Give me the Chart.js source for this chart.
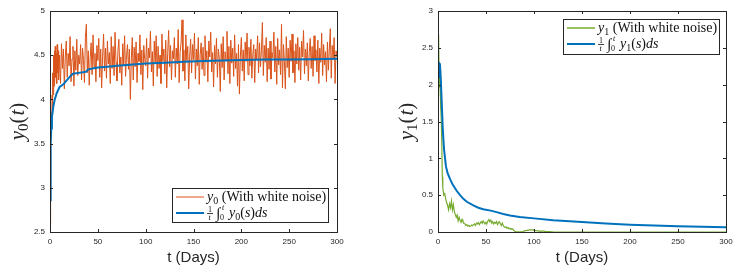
<!DOCTYPE html>
<html><head><meta charset="utf-8">
<script src="https://cdn.jsdelivr.net/npm/chart.js@4/dist/chart.umd.min.js"></script>
<style>
html,body{margin:0;padding:0;background:#fff;overflow:hidden}
#wrap{position:relative;width:743px;height:271px;background:#fff}
canvas{position:absolute;top:0}
</style></head><body>
<div id="wrap">
<canvas id="c0" width="371" height="271" style="left:0;width:371px;height:271px"></canvas>
<canvas id="c1" width="372" height="271" style="left:371px;width:372px;height:271px"></canvas>
</div>
<script>
// ---------- tick labels ----------
const xTicks = [0,50,100,150,200,250,300];
const y0Ticks = [2.5,3,3.5,4,4.5,5];
const y1Ticks = [0,0.5,1,1.5,2,2.5,3];

// ---------- left panel: y0 with white noise ----------
const y0EarlyT = [0,0.3,0.6,1,1.4,1.8,2.2,2.6,3,3.4,3.8,4.2,4.6,5,5.5,6,6.5,7,7.5,8,8.5,9,9.5];
const y0EarlyV = [2.6,3.3,3.7,3.55,3.85,3.7,4.05,3.9,4.3,4.05,4.5,4.15,4.55,4.2,4.6,4.25,4.52,4.18,4.62,4.3,4.55,4.22,4.5];
const y0NoiseStart = 10; // values below are for t = 10, 11, ..., 300
const y0Noise = [
4.42,4.18,4.63,4.35,4.57,4.12,4.48,4.66,4.25,4.52,
4.38,4.71,4.20,4.46,4.60,4.15,4.55,4.33,4.68,4.27,
4.50,4.40,4.62,4.22,4.58,4.45,4.19,4.70,4.85,4.30,
4.55,4.16,4.47,4.64,4.28,4.73,4.36,4.52,4.20,4.61,
4.44,4.69,4.25,4.57,4.13,4.49,4.74,4.32,4.58,4.24,
4.66,4.40,4.53,4.18,4.71,4.35,4.60,4.27,4.76,4.42,
4.21,4.55,4.68,4.30,4.48,4.16,4.63,4.39,4.72,4.26,
4.50,4.62,4.34,4.57,4.00,4.46,4.70,4.22,4.59,4.37,
4.65,4.19,4.52,4.43,4.73,4.28,4.56,4.11,4.61,4.45,
4.38,4.69,4.24,4.58,4.47,4.77,4.31,4.54,4.15,4.66,
4.41,4.72,4.26,4.60,4.35,4.50,4.18,4.74,4.43,4.57,
4.29,4.67,4.13,4.52,4.78,4.37,4.61,4.22,4.55,4.46,
4.70,4.25,4.58,4.40,4.79,4.19,4.53,4.64,4.90,4.32,
4.56,4.21,4.73,4.44,4.60,4.12,4.49,4.68,4.30,4.62,
4.45,4.75,4.23,4.57,4.38,4.70,4.17,4.51,4.64,4.34,
4.59,4.27,4.72,4.42,4.55,4.20,4.66,4.48,4.76,4.31,
4.53,4.14,4.61,4.40,4.69,4.25,4.57,4.46,4.09,4.63,
4.36,4.71,4.22,4.54,4.44,4.77,4.29,4.60,4.18,4.67,
4.41,4.58,4.26,4.73,4.35,4.52,4.15,4.62,4.06,4.49,
4.70,4.32,4.56,4.21,4.65,4.43,4.75,4.28,4.59,4.38,
4.68,4.24,4.51,4.62,4.19,4.57,4.45,4.72,4.30,4.64,
4.37,4.55,4.87,4.27,4.61,4.42,4.70,4.20,4.58,4.34,
4.66,4.23,4.53,4.47,4.76,4.31,4.60,4.17,4.69,4.39,
4.56,4.28,4.85,4.13,4.62,4.44,4.12,4.71,4.36,4.58,
4.25,4.67,4.43,4.74,4.30,4.55,4.19,4.63,4.40,4.70,
4.33,4.59,4.22,4.66,4.48,4.78,4.29,4.57,4.38,4.64,
4.21,4.53,4.69,4.35,4.60,4.26,4.72,4.44,4.56,4.31,
4.67,4.18,4.58,4.42,4.75,4.27,4.62,4.39,4.54,4.20,
4.65,4.33,4.57,4.80,4.24,4.61,4.45,4.70,4.18,4.55,
4.48];
const y0MeanT = [0,0.7,1.3,2,3,3.5,5,7,10,14,17,21,24,30,36,38,40,50,60,70,80,100,120,140,160,180,200,225,250,275,300];
const y0MeanV = [2.86,3.51,3.67,3.8,3.88,3.92,4.0,4.07,4.14,4.17,4.21,4.26,4.29,4.3,4.31,4.315,4.34,4.36,4.37,4.38,4.39,4.405,4.415,4.425,4.435,4.44,4.445,4.45,4.452,4.455,4.46];

// ---------- right panel: y1 with white noise ----------
const y1EarlyT = [0,0.3,0.6,0.9,1.2,1.5,1.8,2.1,2.5,3,3.5,4,4.5];
const y1EarlyV = [1.85,2.4,2.0,2.68,2.1,2.3,1.95,2.2,1.9,1.7,1.5,1.15,0.75];
const y1NoiseStart = 5; // values below are for t = 5, 6, ..., 120
const y1Noise = [
0.6,0.5,0.52,0.45,0.4,0.36,0.3,0.38,0.33,0.42,
0.3,0.37,0.28,0.24,0.2,0.23,0.15,0.2,0.16,0.13,
0.17,0.14,0.12,0.11,0.09,0.1,0.08,0.09,0.075,0.08,
0.095,0.085,0.1,0.11,0.09,0.12,0.11,0.13,0.1,0.12,
0.14,0.12,0.15,0.13,0.11,0.13,0.12,0.15,0.17,0.14,
0.16,0.12,0.14,0.11,0.13,0.12,0.14,0.1,0.13,0.14,
0.11,0.09,0.12,0.085,0.07,0.06,0.07,0.05,0.06,0.045,
0.05,0.04,0.045,0.04,0.02,0.01,0.005,0.003,0.002,0.001,
0.001,0.002,0.003,0.005,0.01,0.015,0.02,0.018,0.025,0.022,
0.03,0.028,0.032,0.025,0.03,0.022,0.02,0.018,0.02,0.015,
0.012,0.015,0.01,0.012,0.014,0.01,0.008,0.01,0.007,0.005,
0.006,0.004,0.005,0.003,0.002,0.001];
const y1TailT = [130,300];
const y1TailV = [0,0];
const y1MeanT = [0,0.3,0.6,1,2,3,4,5,6.3,8.3,10,12.5,15,19.4,23,26.4,30,36.8,42,47,55,61,68,75,85,100,120,150,175,200,250,300];
const y1MeanV = [2.1,2.3,2.15,2.3,2.28,2.05,1.72,1.39,1.12,0.89,0.8,0.72,0.65,0.56,0.5,0.45,0.41,0.36,0.33,0.31,0.29,0.27,0.245,0.225,0.205,0.185,0.16,0.135,0.115,0.1,0.077,0.063];

// ---------- build point lists ----------
function pairs(ts, vs){ return ts.map((t,i)=>({x:t,y:vs[i]})); }
function stepPairs(start, vs){ return vs.map((v,i)=>({x:start+i,y:v})); }

const y0NoisePts = pairs(y0EarlyT,y0EarlyV).concat(stepPairs(y0NoiseStart,y0Noise));
const y0MeanPts = pairs(y0MeanT,y0MeanV);
const y1NoisePts = pairs(y1EarlyT,y1EarlyV).concat(stepPairs(y1NoiseStart,y1Noise)).concat(pairs(y1TailT,y1TailV));
const y1MeanPts = pairs(y1MeanT,y1MeanV);

const AX = '#262626';
const SANS = '"Liberation Sans", Arial, Helvetica, sans-serif';
const SERIF = '"Liberation Serif", "Times New Roman", serif';

// ---------- plugin: matlab-style box, inward ticks, y title, legend ----------
const matlabPlugin = {
  id:'matlab',
  afterDraw(chart, args, o){
    const ctx = chart.ctx, a = chart.chartArea;
    const xs = chart.scales.x, ys = chart.scales.y;
    ctx.save();
    ctx.strokeStyle = AX; ctx.lineWidth = 1;
    ctx.strokeRect(Math.round(a.left)+0.5, Math.round(a.top)+0.5, Math.round(a.right-a.left), Math.round(a.bottom-a.top));
    const tl = 3;
    ctx.beginPath();
    xs.ticks.forEach(t=>{
      const px = Math.round(xs.getPixelForValue(t.value))+0.5;
      ctx.moveTo(px,a.bottom); ctx.lineTo(px,a.bottom-tl);
      ctx.moveTo(px,a.top); ctx.lineTo(px,a.top+tl);
    });
    ys.ticks.forEach(t=>{
      const py = Math.round(ys.getPixelForValue(t.value))+0.5;
      ctx.moveTo(a.left,py); ctx.lineTo(a.left+tl,py);
      ctx.moveTo(a.right,py); ctx.lineTo(a.right-tl,py);
    });
    ctx.stroke();

    // y axis title  y_k(t)
    ctx.fillStyle = AX;
    ctx.textBaseline = 'alphabetic';
    const segsT = [
      {t:'y', f:'italic 21px '+SERIF},
      {t:o.sub, f:'15px '+SERIF, dy:4},
      {t:'(', f:'21px '+SERIF, dx:1},
      {t:'t', f:'italic 21px '+SERIF},
      {t:')', f:'21px '+SERIF}
    ];
    let w = 0;
    segsT.forEach(s=>{ ctx.font=s.f; w += ctx.measureText(s.t).width + (s.dx||0); });
    ctx.translate(o.titleX, (a.top+a.bottom)/2);
    ctx.rotate(-Math.PI/2);
    let x = -w/2;
    segsT.forEach(s=>{ ctx.font=s.f; ctx.fillText(s.t, x, (s.dy||0)); x += ctx.measureText(s.t).width + (s.dx||0); });
    ctx.setTransform(1,0,0,1,0,0);

    // legend
    const L = o.legend;
    const bw = L.w, bh = L.h;
    const bx = a.right - L.mx - bw;
    const by = L.anchor==='br' ? a.bottom - L.my - bh : a.top + L.my;
    ctx.fillStyle = '#fff';
    ctx.fillRect(bx, by, bw, bh);
    ctx.strokeStyle = AX; ctx.lineWidth = 1;
    ctx.strokeRect(Math.round(bx)+0.5, Math.round(by)+0.5, bw, bh);
    const rows = [
      {c:L.c1, lw:L.lw1, cy: by+9},
      {c:L.c2, lw:2, cy: by+25}
    ];
    rows.forEach(r=>{
      ctx.strokeStyle = r.c; ctx.lineWidth = r.lw;
      ctx.beginPath(); ctx.moveTo(bx+4, r.cy); ctx.lineTo(bx+32, r.cy); ctx.stroke();
    });
    ctx.fillStyle = '#111';
    const drawSegs = (x0, base, segs)=>{
      let xx = x0;
      segs.forEach(s=>{ ctx.font=s.f; ctx.fillText(s.t, xx, base + (s.dy||0)); xx += ctx.measureText(s.t).width + (s.dx||0); });
      return xx;
    };
    // row 1
    drawSegs(bx+35, rows[0].cy+4, [
      {t:'y', f:'italic 14px '+SERIF},
      {t:o.sub, f:'10px '+SERIF, dy:3},
      {t:' (With white noise)', f:'14px '+SERIF}
    ]);
    // row 2 : (1/t) ∫_0^t y_k(s) ds
    const b2 = rows[1].cy+4;
    let x2 = bx+35;
    ctx.font = '8px '+SERIF; ctx.fillText('1', x2+1, b2-5);
    ctx.font = 'italic 8px '+SERIF; ctx.fillText('t', x2+1.5, b2+3);
    ctx.fillRect(x2, b2-4, 6, 0.8);
    x2 += 9;
    ctx.font = '15px '+SERIF; ctx.fillText('\u222B', x2, b2+1);
    ctx.font = 'italic 8px '+SERIF; ctx.fillText('t', x2+6, b2-7);
    ctx.font = '8px '+SERIF; ctx.fillText('0', x2+4, b2+3);
    x2 += 13;
    drawSegs(x2, b2, [
      {t:'y', f:'italic 14px '+SERIF},
      {t:o.sub, f:'10px '+SERIF, dy:3},
      {t:'(', f:'14px '+SERIF},
      {t:'s', f:'italic 14px '+SERIF},
      {t:')', f:'14px '+SERIF},
      {t:'ds', f:'italic 14px '+SERIF}
    ]);
    ctx.restore();
  }
};

const fmt = v => String(v);

function makeChart(id, noisePts, meanPts, noiseColor, noiseW, yTicks, yMin, yMax, yW, padRight, plug){
  return new Chart(document.getElementById(id), {
    type:'line',
    data:{datasets:[
      {data:meanPts, borderColor:'#0072BD', borderWidth:2, pointRadius:0, tension:0, order:0},
      {data:noisePts, borderColor:noiseColor, borderWidth:noiseW, pointRadius:0, tension:0, order:1}
    ]},
    options:{
      responsive:false, animation:false, events:[],
      layout:{padding:{left:0, right:padRight, top:11, bottom:0}},
      plugins:{legend:{display:false}, tooltip:{enabled:false}, matlab:plug},
      scales:{
        x:{type:'linear', min:0, max:300,
           afterBuildTicks:s=>{ s.ticks = xTicks.map(v=>({value:v})); },
           afterFit:s=>{ s.height = 39; },
           grid:{display:false, drawTicks:false}, border:{display:false},
           ticks:{font:{family:SANS, size:8}, color:AX, padding:5, maxRotation:0, autoSkip:false, callback:fmt},
           title:{display:true, text:'t (Days)', color:AX, font:{family:SANS, size:15}, padding:{top:0,bottom:4}}
        },
        y:{type:'linear', min:yMin, max:yMax,
           afterBuildTicks:s=>{ s.ticks = yTicks.map(v=>({value:v})); },
           afterFit:s=>{ s.width = yW; },
           grid:{display:false, drawTicks:false}, border:{display:false},
           ticks:{font:{family:SANS, size:8}, color:AX, padding:5, autoSkip:false, callback:fmt}
        }
      }
    },
    plugins:[matlabPlugin]
  });
}

makeChart('c0', y0NoisePts, y0MeanPts, '#D95319', 1, y0Ticks, 2.5, 5, 50, 34,
  {sub:'0', titleX:24, legend:{anchor:'br', w:156, h:34, mx:9, my:10, c1:'#D95319', lw1:1, c2:'#0072BD'}});
makeChart('c1', y1NoisePts, y1MeanPts, '#77AC30', 1.2, y1Ticks, 0, 3, 67, 17,
  {sub:'1', titleX:42, legend:{anchor:'tr', w:156, h:35, mx:7, my:8, c1:'#77AC30', lw1:1.5, c2:'#0072BD'}});
</script>
</body></html>
